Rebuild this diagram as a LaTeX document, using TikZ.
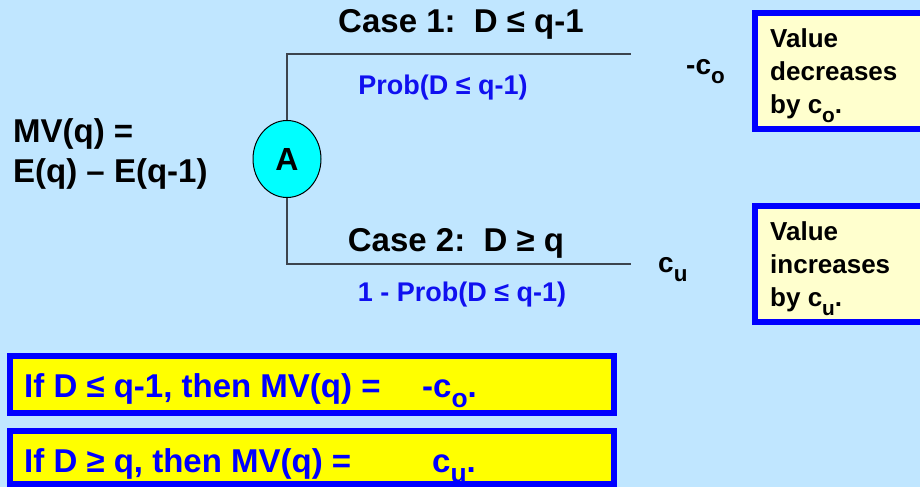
\documentclass[tikz,border=0pt]{standalone}
\usepackage{fontspec}
\usepackage{graphicx}
\setmainfont{Liberation Sans}
\usetikzlibrary{shapes.geometric}

\definecolor{bgblue}{RGB}{192,230,255}
\definecolor{treeline}{RGB}{60,68,78}
\definecolor{probblue}{RGB}{16,16,240}
\definecolor{notefill}{RGB}{255,255,206}
\definecolor{boxblue}{RGB}{0,0,255}
\definecolor{rulefill}{RGB}{255,255,0}
\definecolor{chancefill}{RGB}{0,255,255}

% bold text at a given size and line spacing
\newcommand\fsz[2]{\fontsize{#1bp}{#2bp}\selectfont\bfseries}
% lowered subscript letter
\newcommand\lowsub[1]{\raisebox{-0.32em}{\scalebox{0.8}{#1}}}

\tikzset{
  branch/.style={draw=treeline, line width=1.6bp},
  chance/.style={ellipse, draw=black, line width=1bp, fill=chancefill,
    minimum width=68bp, minimum height=77bp, inner sep=0pt, font=\fsz{32}{32}},
  caselabel/.style={anchor=base, inner sep=0pt, font=\fsz{33}{33}},
  problabel/.style={anchor=base, inner sep=0pt, text=probblue, font=\fsz{27}{27}},
  payoff/.style={anchor=base west, inner sep=0pt, font=\fsz{28}{28}},
  notebox/.style={draw=boxblue, line width=6bp, fill=notefill},
  % multi-line nodes: the base anchor sits on the last line
  notetext/.style={anchor=base west, inner sep=0pt, align=left, font=\fsz{26}{33}},
  rulebox/.style={draw=boxblue, line width=6bp, fill=rulefill},
  ruletext/.style={anchor=base west, inner sep=0pt, text=boxblue, font=\fsz{33}{33}},
}

\begin{document}
\begin{tikzpicture}[x=1bp, y=-1bp]
  \fill[bgblue] (0,0) rectangle (920,487);
  \useasboundingbox (0,0) rectangle (920,487);

  % marginal value definition
  \node[anchor=base west, inner sep=0pt, align=left, font=\fsz{33}{40}] (mv)
    at (13,183) {MV(q) =\\E(q) – E(q-1)};

  % chance node and its two branches
  \node[chance] (A) at (287,159) {A};
  \coordinate (e1) at (631,54);
  \coordinate (e2) at (631,264);
  \draw[branch] (A.north) |- (e1);
  \draw[branch] (A.south) |- (e2);

  \node[caselabel] (case1) at (461,33) {Case 1:\ \ D ≤ q-1};
  \node[problabel] (p1) at (443,95) {Prob(D ≤ q-1)};
  \node[caselabel] (case2) at (456,252) {Case 2:\ \ D ≥ q};
  \node[problabel] (p2) at (462,302) {1 - Prob(D ≤ q-1)};

  \node[payoff] (co) at (686,75) {-c\lowsub{o}};
  \node[payoff] (cu) at (658,273) {c\lowsub{u}};

  % explanatory notes
  \draw[notebox] (755,13) rectangle (940,129);
  \node[notetext] (n1) at (770,114) {Value\\decreases\\by c\lowsub{o}.};
  \draw[notebox] (755,206) rectangle (940,322);
  \node[notetext] (n2) at (770,307) {Value\\increases\\by c\lowsub{u}.};

  % summary rules
  \draw[rulebox] (10,356) rectangle (614,413);
  \node[ruletext] (r1) at (24,397) {If D ≤ q-1, then MV(q) =};
  \node[ruletext] (r1v) at (422,397) {-c\lowsub{o}.};
  \draw[rulebox] (10,431) rectangle (614,484);
  \node[ruletext] (r2) at (24,472) {If D ≥ q, then MV(q) =};
  \node[ruletext] (r2v) at (432,472) {c\lowsub{u}.};
\end{tikzpicture}
\end{document}
